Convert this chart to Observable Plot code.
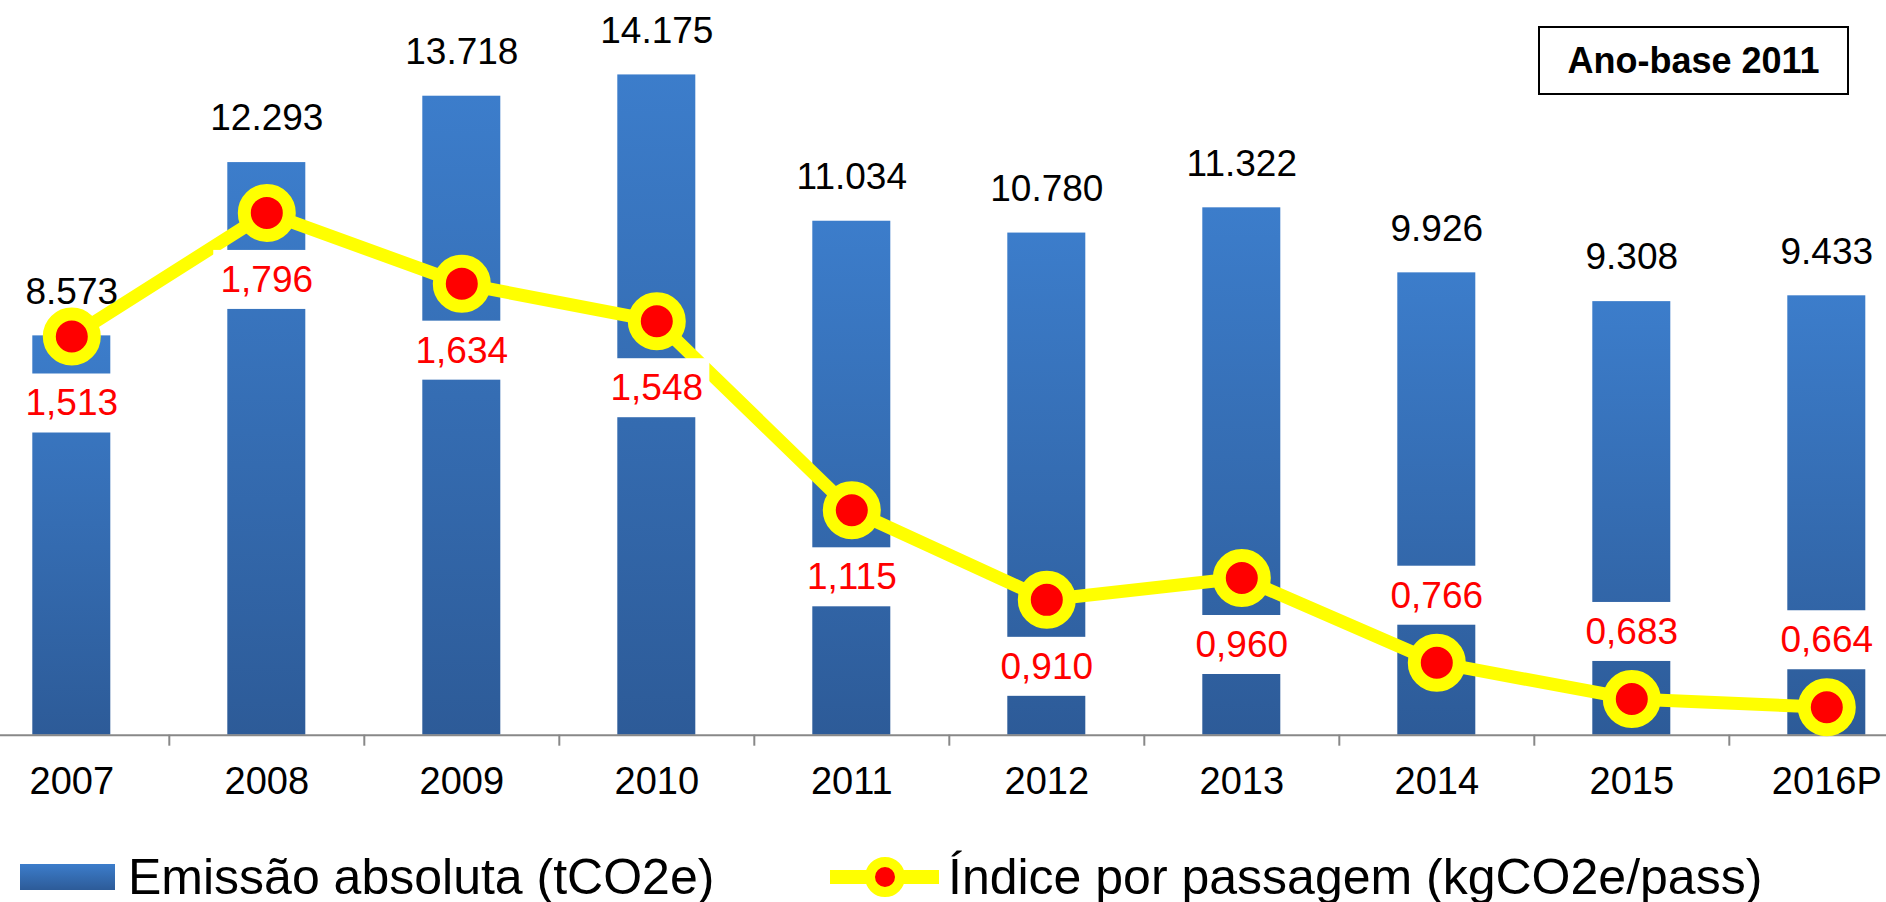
<!DOCTYPE html>
<html>
<head>
<meta charset="utf-8">
<script src="https://cdn.jsdelivr.net/npm/d3@7"></script>
<script src="https://cdn.jsdelivr.net/npm/@observablehq/plot@0.6"></script>
<style>
  html, body { margin: 0; padding: 0; background: #fff; overflow: hidden; }
  #wrap { position: relative; width: 1886px; height: 902px; font-family: "Liberation Sans", Arial, sans-serif; color: #000; }
  #badge { position: absolute; left: 1538px; top: 26px; width: 311px; height: 69px; box-sizing: border-box;
           border: 2px solid #000; background: #fff; display: flex; align-items: center; justify-content: center;
           font-weight: bold; font-size: 36px; }
  #legend { position: relative; height: 62px; }
  .item { position: absolute; top: 12px; height: 50px; display: flex; align-items: center; font-size: 50px; line-height: 50px; white-space: nowrap; }
  .swatch-bar { width: 95px; height: 26px; background: linear-gradient(#3C7DCB, #2D5B98); margin-right: 13px; }
  .swatch-line { margin-right: 9px; display: block; }
</style>
</head>
<body>
<div id="wrap">
  <div id="chart"></div>
  <div id="legend">
    <div class="item" style="left:20px"><div class="swatch-bar"></div><span>Emissão absoluta (tCO2e)</span></div>
    <div class="item" style="left:830px">
      <svg class="swatch-line" width="109" height="44" viewBox="0 0 109 44">
        <line x1="0" y1="22" x2="109" y2="22" stroke="#FFFF00" stroke-width="14"></line>
        <circle cx="55" cy="22" r="15" fill="#FF0000" stroke="#FFFF00" stroke-width="10"></circle>
      </svg>
      <span>Índice por passagem (kgCO2e/pass)</span>
    </div>
  </div>
  <div id="badge">Ano-base 2011</div>
</div>
<script>
// ---- data ----
const years = ["2007", "2008", "2009", "2010", "2011", "2012", "2013", "2014", "2015", "2016P"];
const emissao = [8573, 12293, 13718, 14175, 11034, 10780, 11322, 9926, 9308, 9433];          // tCO2e
const indice = [1.513, 1.796, 1.634, 1.548, 1.115, 0.910, 0.960, 0.766, 0.683, 0.664];       // kgCO2e/pass
const indiceLabelSide = ["below", "below", "below", "below", "below", "below", "below", "above", "above", "above"];

// axis settings (primary: emissions, secondary: index)
const empDomain = [0, 15000];
const idxDomain = [0.6, 2.2];

// ---- helpers ----
const pt = d3.formatLocale({decimal: ",", thousands: ".", grouping: [3], currency: ["", ""]});
const fmtInt = pt.format(",d");
const fmtDec = pt.format(".3f");
const toPrimary = v => (v - idxDomain[0]) / (idxDomain[1] - idxDomain[0]) * (empDomain[1] - empDomain[0]) + empDomain[0];

const data = years.map((ano, i) => ({i, ano, emissao: emissao[i], indice: indice[i], side: indiceLabelSide[i]}));
const below = data.filter(d => d.side === "below");
const above = data.filter(d => d.side === "above");
const boundaries = years.slice(0, -1).map((_, i) => i + 0.5);

const halfBar = 0.2;   // bar half-width in band units
const halfBox = 0.272; // label box half-width in band units

const W = 1886, H = 840;

const defs = () => {
  const g = d3.create("svg:g");
  const d = g.append("defs");
  const lg = d.append("linearGradient").attr("id", "barGrad").attr("x1", 0).attr("y1", 0).attr("x2", 0).attr("y2", 1);
  lg.append("stop").attr("offset", 0).attr("stop-color", "#3C7DCB");
  lg.append("stop").attr("offset", 1).attr("stop-color", "#2D5B98");
  const f1 = d.append("filter").attr("id", "barShadow").attr("x", "-20%").attr("y", "-5%").attr("width", "140%").attr("height", "110%");
  f1.append("feDropShadow").attr("dx", 0).attr("dy", 0).attr("stdDeviation", 3).attr("flood-color", "#000").attr("flood-opacity", 0.28);
  const f2 = d.append("filter").attr("id", "dotShadow").attr("x", "-50%").attr("y", "-50%").attr("width", "200%").attr("height", "220%");
  f2.append("feDropShadow").attr("dx", 0).attr("dy", 7).attr("stdDeviation", 4).attr("flood-color", "#000").attr("flood-opacity", 0.45);
  return g.node();
};

const chart = Plot.plot({
  width: W,
  height: H,
  margin: 0,
  style: {background: "transparent", fontFamily: '"Liberation Sans", Arial, sans-serif', overflow: "visible"},
  x: {type: "linear", domain: [-0.5, years.length - 0.5], range: [-26.2, 1923.8], axis: null},
  y: {type: "linear", domain: empDomain, range: [734.7, 36], axis: null},
  marks: [
    defs,
    Plot.rect(data, {x1: d => d.i - halfBar, x2: d => d.i + halfBar, y1: 0, y2: "emissao", fill: "url(#barGrad)", ariaLabel: "bars"}),
    Plot.ruleY([0], {stroke: "#888888", strokeWidth: 2}),
    Plot.ruleX(boundaries, {x: d => d, y1: 0, y2: 0, insetBottom: -11, stroke: "#888888", strokeWidth: 2}),
    Plot.text(data, {x: "i", y: 0, text: "ano", dy: 47, fontSize: 38, fill: "#000"}),
    Plot.line(data, {x: "i", y: d => toPrimary(d.indice), stroke: "#FFFF00", strokeWidth: 13, strokeLinejoin: "round", strokeLinecap: "round"}),
    Plot.rect(below, {x1: d => d.i - halfBox, x2: d => d.i + halfBox, y1: d => toPrimary(d.indice), y2: d => toPrimary(d.indice), insetTop: -29.5, insetBottom: -29.5, dy: 67, fill: "#fff"}),
    Plot.rect(above, {x1: d => d.i - halfBox, x2: d => d.i + halfBox, y1: d => toPrimary(d.indice), y2: d => toPrimary(d.indice), insetTop: -29.5, insetBottom: -29.5, dy: -67, fill: "#fff"}),
    Plot.dot(data, {x: "i", y: d => toPrimary(d.indice), r: 22.5, fill: "#FF0000", stroke: "#FFFF00", strokeWidth: 13, ariaLabel: "dots"}),
    Plot.text(below, {x: "i", y: d => toPrimary(d.indice), text: d => fmtDec(d.indice), dy: 67, fontSize: 37, fill: "#FF0000"}),
    Plot.text(above, {x: "i", y: d => toPrimary(d.indice), text: d => fmtDec(d.indice), dy: -67, fontSize: 37, fill: "#FF0000"}),
    Plot.text(data, {x: "i", y: "emissao", text: d => fmtInt(d.emissao), dy: -44, fontSize: 37, fill: "#000"})
  ]
});

const barsG = chart.querySelector('g[aria-label="bars"]');
if (barsG) barsG.setAttribute("filter", "url(#barShadow)");
const dotsG = chart.querySelector('g[aria-label="dots"]');
if (dotsG) dotsG.setAttribute("filter", "url(#dotShadow)");

document.getElementById("chart").appendChild(chart);
</script>
</body>
</html>
